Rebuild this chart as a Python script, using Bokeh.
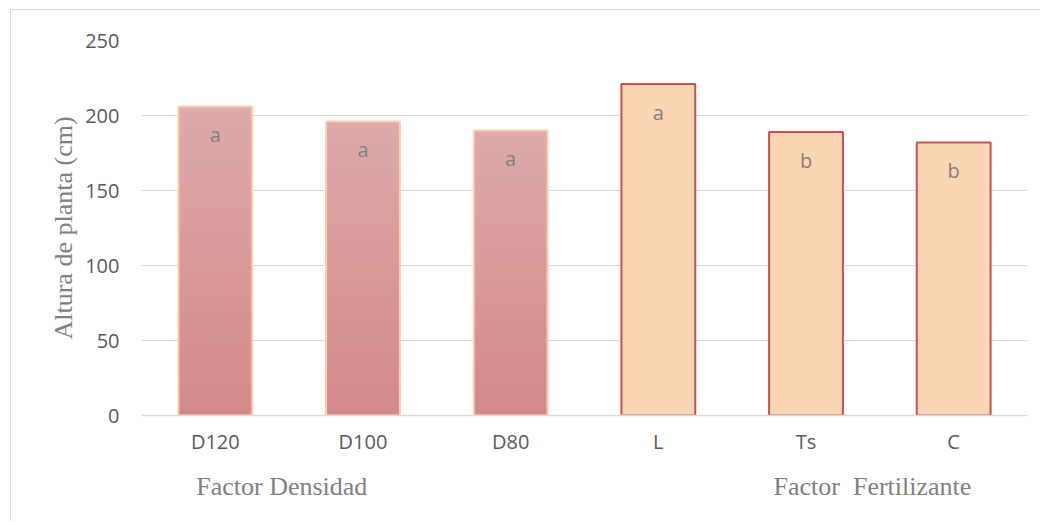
from bokeh.plotting import figure
from bokeh.models import Range1d, FixedTicker, LinearAxis
from bokeh.core.properties import value
from bokeh.embed import file_html
from bokeh.resources import INLINE

# ---- data ----
categories = ["D120", "D100", "D80", "L", "Ts", "C"]
heights = [206, 196, 190, 221, 189, 182]
letters = ["a", "a", "a", "a", "b", "b"]
groups = ["Densidad", "Densidad", "Densidad", "Fertilizante", "Fertilizante", "Fertilizante"]
group_labels = ["Factor Densidad", "Factor\u00a0 Fertilizante"]
group_anchor = [("D120", "D100"), ("Ts", "C")]
y_ticks = [0, 50, 100, 150, 200, 250]

xs = [i + 0.5 for i in range(len(categories))]
xpos = dict(zip(categories, xs))

p = figure(width=1030, height=512, output_backend="svg", toolbar_location=None,
           x_range=Range1d(0, len(categories)), y_range=Range1d(0, 250),
           min_border_left=130, min_border_right=14, min_border_top=30, min_border_bottom=107,
           styles={"border-left": "1px solid #d9d9d9", "border-top": "1px solid #d9d9d9",
                   "margin-left": "10px", "margin-top": "9px"})
p.outline_line_color = None
p.background_fill_color = "white"
p.border_fill_color = "white"

# gradient bars for Densidad (stacked slices)
dens_x = [x for x, g in zip(xs, groups) if g == "Densidad"]
dens_h = [h for h, g in zip(heights, groups) if g == "Densidad"]
N = 30
top_c = (221, 170, 170)
bot_c = (212, 137, 137)
for i in range(N):
    f = (i + 0.5) / N
    c = tuple(int(round(bot_c[k] + (top_c[k] - bot_c[k]) * f)) for k in range(3))
    col = "#%02x%02x%02x" % c
    p.vbar(x=dens_x, width=0.5, bottom=[h * i / N for h in dens_h],
           top=[h * (i + 1) / N for h in dens_h], fill_color=col, line_color=col,
           line_width=1)
p.vbar(x=dens_x, width=0.5, top=dens_h, bottom=0, fill_color=None,
       line_color="#fbcfae", line_width=2)

fert_x = [x for x, g in zip(xs, groups) if g == "Fertilizante"]
fert_h = [h for h, g in zip(heights, groups) if g == "Fertilizante"]
p.vbar(x=fert_x, width=0.5, top=fert_h, bottom=0, fill_color="#fcd5b5",
       line_color="#c9504d", line_width=2)

# letters
p.text(x=xs, y=heights, text=letters, text_align="center", text_baseline="middle",
       y_offset=28, text_font=value("Open Sans"), text_font_size="20px",
       text_color="#7f7f7f")

# grid
p.xgrid.grid_line_color = None
p.ygrid.grid_line_color = "#d9d9d9"
p.ygrid.grid_line_width = 1.2
p.ygrid.ticker = FixedTicker(ticks=y_ticks)

# y axis
ya = p.yaxis[0]
ya.ticker = FixedTicker(ticks=y_ticks)
ya.axis_line_color = None
ya.major_tick_line_color = None
ya.minor_tick_line_color = None
ya.major_tick_out = 0
ya.major_tick_in = 0
ya.major_label_text_font = "Open Sans"
ya.major_label_text_font_size = "20px"
ya.major_label_text_color = "#595959"
ya.major_label_standoff = 22
ya.axis_label = "Altura de planta (cm)"
ya.axis_label_text_font = "Liberation Serif"
ya.axis_label_text_font_size = "26px"
ya.axis_label_text_font_style = "normal"
ya.axis_label_text_color = "#808080"
ya.axis_label_standoff = 4

# x axis (categories)
xa = p.xaxis[0]
xa.ticker = FixedTicker(ticks=xs)
xa.major_label_overrides = {x: c for x, c in zip(xs, categories)}
xa.axis_line_color = "#d9d9d9"
xa.axis_line_width = 1.5
xa.major_tick_line_color = None
xa.minor_tick_line_color = None
xa.major_tick_out = 0
xa.major_tick_in = 0
xa.major_label_text_font = "Open Sans"
xa.major_label_text_font_size = "20px"
xa.major_label_text_color = "#595959"
xa.major_label_standoff = 12

# second axis for factor group titles
group_pos = [(xpos[a] + xpos[b]) / 2 - 0.05 for a, b in group_anchor]
ga = LinearAxis(ticker=FixedTicker(ticks=group_pos),
                major_label_overrides={gp: t for gp, t in zip(group_pos, group_labels)})
ga.axis_line_color = None
ga.major_tick_line_color = None
ga.minor_tick_line_color = None
ga.major_tick_out = 0
ga.major_tick_in = 0
ga.major_label_text_font = "Liberation Serif"
ga.major_label_text_font_size = "26px"
ga.major_label_text_color = "#808080"
ga.major_label_standoff = 14
p.add_layout(ga, "below")

open("out.html", "w").write(file_html(p, INLINE))
